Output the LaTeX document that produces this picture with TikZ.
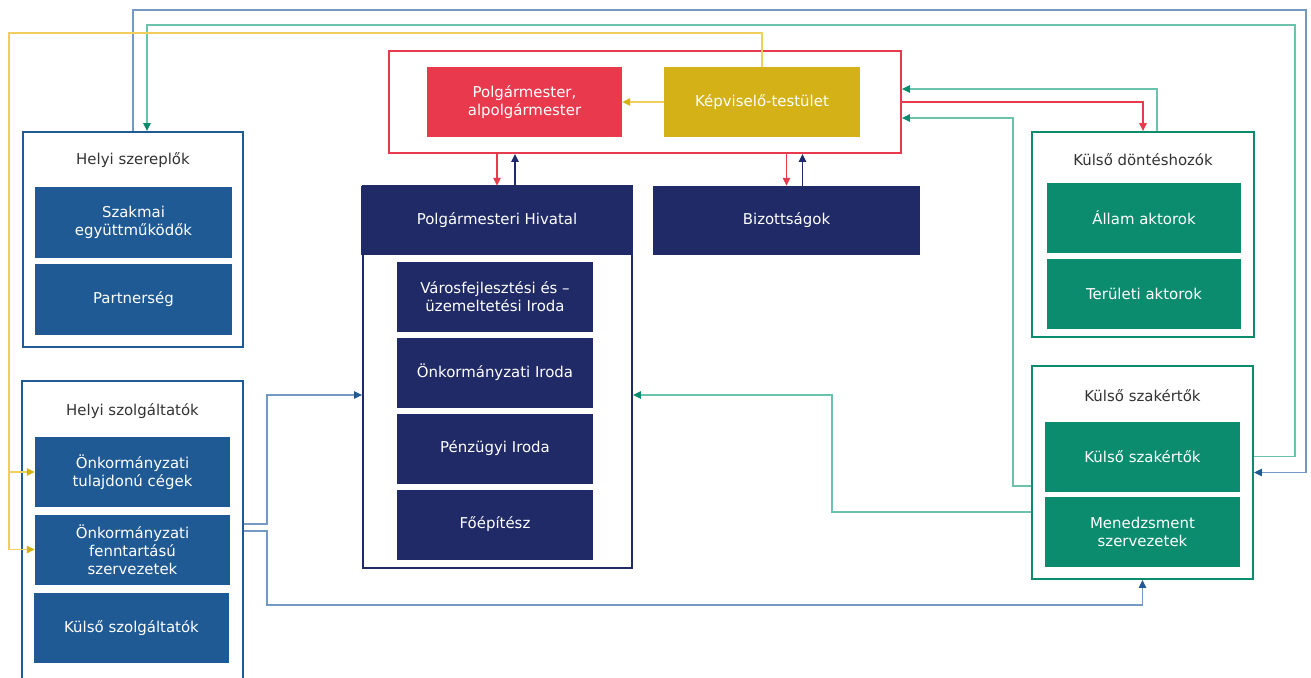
\documentclass[tikz,border=0pt]{standalone}
\usepackage{fontspec}
\setmainfont{DejaVu Sans}
\usetikzlibrary{arrows.meta,calc}
\definecolor{piros}{HTML}{E8394D}
\definecolor{arany}{HTML}{D5B118}
\definecolor{sotetkek}{HTML}{1F2A66}
\definecolor{kek}{HTML}{1F5A94}
\definecolor{zold}{HTML}{0B8C6E}
\definecolor{halvanykek}{HTML}{7399C4}
\definecolor{halvanyzold}{HTML}{6CC3AD}
\definecolor{halvanysarga}{HTML}{F2CF5A}
\definecolor{szurke}{HTML}{333333}

\begin{document}
\begin{tikzpicture}[x=0.02cm, y=-0.02cm, line join=miter, font=\fontsize{8.5}{10.3}\selectfont,
  doboz/.style={minimum width=3.9cm, minimum height=1.4cm, align=center, text=white, inner sep=1pt},
  keret/.style={draw, line width=1.1pt, fill=white},
  cim/.style={text=szurke},
  hegy/.style={-{Triangle[length=4.5pt,width=4.2pt,color=#1]}},
  vonal/.style={line width=0.75pt}]
  % Háttér és keret
  \fill[white] (0,0) rectangle (1311,677);
  \useasboundingbox (0,0) rectangle (1311,677);

  % Képviselő-testület és polgármester
  \node[keret, draw=piros, minimum width=10.24cm, minimum height=2.04cm] (kt) at (645,102) {};
  \node[doboz, fill=piros] (polg) at (524.5,102) {Polgármester,\\alpolgármester};
  \node[doboz, fill=arany, minimum width=3.92cm] (kepv) at (762,102) {Képviselő-testület};

  % Polgármesteri Hivatal és irodái
  \node[keret, draw=sotetkek, minimum width=5.38cm, minimum height=7.64cm] (hivbox) at (497.5,377) {};
  \node[doboz, fill=sotetkek, minimum width=5.44cm, minimum height=1.38cm] (hiv) at (497,220.5) {Polgármesteri Hivatal};
  \node[doboz, fill=sotetkek, minimum width=3.92cm] (varos) at (495,297) {Városfejlesztési és –\\üzemeltetési Iroda};
  \node[doboz, fill=sotetkek, minimum width=3.92cm] (onkir) at (495,372.5) {Önkormányzati Iroda};
  \node[doboz, fill=sotetkek, minimum width=3.92cm] (penz) at (495,448.5) {Pénzügyi Iroda};
  \node[doboz, fill=sotetkek, minimum width=3.92cm] (foep) at (495,524.5) {Főépítész};
  \node[doboz, fill=sotetkek, minimum width=5.34cm, minimum height=1.38cm] (biz) at (786.5,220.5) {Bizottságok};

  % Helyi szereplők
  \node[keret, draw=kek, minimum width=4.4cm, minimum height=4.3cm] (hsz) at (133,239.5) {};
  \node[cim] (hszcim) at (133,160) {Helyi szereplők};
  \node[doboz, fill=kek, minimum width=3.94cm, minimum height=1.42cm] (szakm) at (133.5,222.5) {Szakmai\\együttműködők};
  \node[doboz, fill=kek, minimum width=3.94cm, minimum height=1.42cm] (partn) at (133.5,299) {Partnerség};

  % Helyi szolgáltatók
  \node[keret, draw=kek, minimum width=4.42cm, minimum height=6.38cm] (hszolg) at (132.5,540.5) {};
  \node[cim] (hszolgcim) at (132.5,411) {Helyi szolgáltatók};
  \node[doboz, fill=kek] (onktul) at (132.5,472) {Önkormányzati\\tulajdonú cégek};
  \node[doboz, fill=kek] (onkfen) at (132.5,549.5) {Önkormányzati\\fenntartású\\szervezetek};
  \node[doboz, fill=kek] (kulszolg) at (131.5,628) {Külső szolgáltatók};

  % Külső döntéshozók
  \node[keret, draw=zold, minimum width=4.44cm, minimum height=4.1cm] (kd) at (1143,234.5) {};
  \node[cim] (kdcim) at (1143,160) {Külső döntéshozók};
  \node[doboz, fill=zold, minimum width=3.88cm] (allam) at (1144,218) {Állam aktorok};
  \node[doboz, fill=zold, minimum width=3.88cm] (terul) at (1144,294) {Területi aktorok};

  % Külső szakértők
  \node[keret, draw=zold, minimum width=4.42cm, minimum height=4.26cm] (ksz) at (1142.5,472.5) {};
  \node[cim] (kszcim) at (1142.5,396) {Külső szakértők};
  \node[doboz, fill=zold] (kszak) at (1142.5,456.5) {Külső szakértők};
  \node[doboz, fill=zold] (menedz) at (1142.5,532) {Menedzsment\\szervezetek};

  % Kapcsolatok a testületen belül és alatta
  \draw[vonal, halvanysarga, hegy=arany] (kepv.west) -- (polg.east);
  \draw[vonal, piros, hegy=piros] (kt.south -| hiv.north) -- (hiv.north);
  \draw[vonal, sotetkek, hegy=sotetkek] ($(hiv.north)+(18,0)$) -- ($(kt.south -| hiv.north)+(18,0)$);
  \draw[vonal, piros, hegy=piros] (kt.south -| biz.north) -- (biz.north);
  \draw[vonal, sotetkek, hegy=sotetkek] ($(biz.north)+(16,0)$) -- ($(kt.south -| biz.north)+(16,0)$);

  % Külső döntéshozók és szakértők felé
  \draw[vonal, piros, hegy=piros] (kt.east) -| (kd.north);
  \draw[vonal, halvanyzold, hegy=zold] ($(kd.north)+(14,0)$) |- ($(kt.east)+(0,-13)$);
  \draw[vonal, halvanyzold, hegy=zold] ($(ksz.west)+(0,13.5)$) -| (1013,118) -- ($(kt.east)+(0,16)$);
  \draw[vonal, halvanyzold, hegy=zold] ($(ksz.west)+(0,39.5)$) -| (832,395) -- (hivbox.east |- 0,395);

  % Hosszú visszacsatolások
  \draw[vonal, halvanykek, hegy=kek] (hsz.north) |- (1306,10) |- (ksz.east);
  \draw[vonal, halvanyzold, hegy=zold] (ksz.east |- kszak.east) -| (1295,25) -| ($(hsz.north)+(14,0)$);
  \draw[vonal, halvanysarga, hegy=arany] (kepv.north) |- (9,33) |- (onktul.west);
  \draw[vonal, halvanysarga, hegy=arany] (9,472) |- (onkfen.west);

  % Helyi szolgáltatók kapcsolatai
  \draw[vonal, halvanykek, hegy=kek] (hszolg.east |- 0,524) -| (267,395) -- (hivbox.west |- 0,395);
  \draw[vonal, halvanykek, hegy=kek] (hszolg.east |- 0,531) -| (267,605) -| (ksz.south);
\end{tikzpicture}
\end{document}
